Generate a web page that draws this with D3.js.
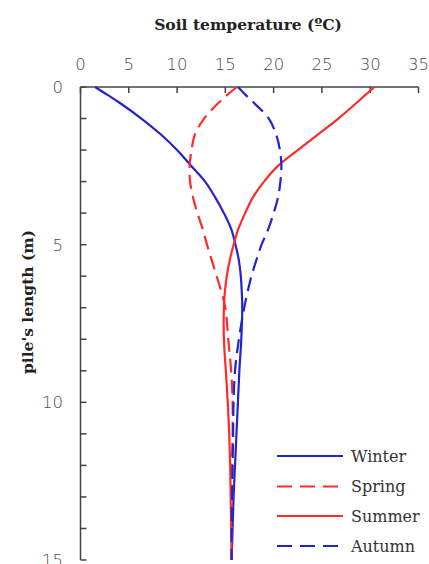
<!DOCTYPE html>
<html>
<head>
<meta charset="utf-8">
<script src="https://cdn.jsdelivr.net/npm/d3@7"></script>
<style>
  html, body { margin: 0; padding: 0; background: #fff; }
  svg { display: block; }
</style>
</head>
<body>
<svg id="chart" width="429" height="564"></svg>
<script>
// Depth below ground (m) at which each soil temperature profile is sampled
const depths = [0, 0.25, 0.5, 1, 1.5, 2, 2.5, 3, 3.5, 4, 4.5, 5, 5.5, 6, 6.5, 7, 8, 9, 10, 11, 12, 13, 14, 15];

// Soil temperature (°C) per season, one value per depth above
const winter = [1.5, 2.8, 4.05, 6.3, 8.3, 10.0, 11.45, 12.9, 13.95, 14.85, 15.6, 16.05, 16.4, 16.6, 16.7, 16.75, 16.65, 16.45, 16.3, 16.15, 16.0, 15.85, 15.75, 15.65];
const spring = [16.2, 15.2, 14.3, 12.8, 11.85, 11.5, 11.3, 11.35, 11.65, 12.1, 12.65, 13.1, 13.6, 14.1, 14.6, 15.0, 15.3, 15.6, 15.75, 15.75, 15.7, 15.7, 15.65, 15.65];
const summer = [30.45, 29.5, 28.6, 26.7, 24.6, 22.5, 20.45, 19.0, 17.85, 17.05, 16.35, 15.85, 15.45, 15.15, 14.95, 14.85, 14.85, 15.05, 15.25, 15.4, 15.5, 15.55, 15.6, 15.65];
const autumn = [16.3, 17.1, 17.95, 19.5, 20.25, 20.65, 20.8, 20.7, 20.45, 20.0, 19.45, 18.75, 18.2, 17.7, 17.3, 16.95, 16.4, 16.0, 15.85, 15.8, 15.75, 15.7, 15.65, 15.65];

const seasonNames = ["Winter", "Spring", "Summer", "Autumn"];
const tempTicks = [0, 5, 10, 15, 20, 25, 30, 35];
const depthLabels = [0, 5, 10, 15];
const depthMinorTicks = d3.range(0, 16, 1);

const blue = "#2424cc";
const red = "#ff2b2b";
const seasons = [
  { name: seasonNames[0], values: winter, color: blue, dash: null },
  { name: seasonNames[1], values: spring, color: red, dash: "14,7" },
  { name: seasonNames[2], values: summer, color: red, dash: null },
  { name: seasonNames[3], values: autumn, color: blue, dash: "14,7" }
];

const svg = d3.select("#chart");

const x = d3.scaleLinear().domain([0, 35]).range([80.5, 418.5]);
const y = d3.scaleLinear().domain([0, 15]).range([87, 560]);

const axisColor = "#444";
const tickFont = "'DejaVu Sans', sans-serif";

// Top temperature axis: baseline with inward ticks
svg.append("line")
  .attr("x1", x(0)).attr("x2", x(35))
  .attr("y1", y(0)).attr("y2", y(0))
  .attr("stroke", axisColor).attr("stroke-width", 1.5);
svg.append("g").selectAll("line").data(tempTicks).join("line")
  .attr("x1", d => x(d)).attr("x2", d => x(d))
  .attr("y1", y(0)).attr("y2", y(0) + 6)
  .attr("stroke", axisColor).attr("stroke-width", 1.5);
svg.append("g").selectAll("text").data(tempTicks).join("text")
  .attr("x", d => x(d)).attr("y", 70)
  .attr("text-anchor", "middle")
  .attr("font-family", tickFont).attr("font-weight", 300)
  .attr("font-size", 16.5).attr("fill", "#4a4a4a")
  .text(d => d);

// Left depth axis: baseline with a tick every metre
svg.append("line")
  .attr("x1", x(0)).attr("x2", x(0))
  .attr("y1", y(0)).attr("y2", y(15))
  .attr("stroke", axisColor).attr("stroke-width", 1.5);
svg.append("g").selectAll("line").data(depthMinorTicks).join("line")
  .attr("x1", x(0)).attr("x2", x(0) + 6)
  .attr("y1", d => y(d)).attr("y2", d => y(d))
  .attr("stroke", axisColor).attr("stroke-width", 1.5);
svg.append("g").selectAll("text").data(depthLabels).join("text")
  .attr("x", 63).attr("y", d => y(d))
  .attr("dy", "0.36em")
  .attr("text-anchor", "end")
  .attr("font-family", tickFont).attr("font-weight", 300)
  .attr("font-size", 16.5).attr("fill", "#4a4a4a")
  .text(d => d);

// Axis titles
svg.append("text")
  .attr("x", 248).attr("y", 30)
  .attr("text-anchor", "middle")
  .attr("font-family", "'DejaVu Serif', serif").attr("font-weight", "bold")
  .attr("font-size", 15.5).attr("fill", "#222")
  .text("Soil temperature (ºC)");
svg.append("text")
  .attr("transform", "translate(33,302) rotate(-90)")
  .attr("text-anchor", "middle")
  .attr("font-family", "'DejaVu Serif', serif").attr("font-weight", "bold")
  .attr("font-size", 15.5).attr("fill", "#222")
  .text("pile's length (m)");

// Temperature profiles against depth
const line = d3.line()
  .x(d => x(d.t))
  .y(d => y(d.z))
  .curve(d3.curveCatmullRom.alpha(0.5));

const plot = svg.append("g");
seasons.forEach(s => {
  const pts = depths.map((z, i) => ({ z, t: s.values[i] }));
  plot.append("path")
    .datum(pts)
    .attr("d", line)
    .attr("fill", "none")
    .attr("stroke", s.color)
    .attr("stroke-width", 2.2)
    .attr("stroke-dasharray", s.dash);
});

// Legend
const legend = svg.append("g");
const legendY = [456, 486.5, 516, 546];
seasons.forEach((s, i) => {
  legend.append("line")
    .attr("x1", 277).attr("x2", 343)
    .attr("y1", legendY[i]).attr("y2", legendY[i])
    .attr("stroke", s.color).attr("stroke-width", 2.2)
    .attr("stroke-dasharray", s.dash ? "15,8" : null);
  legend.append("text")
    .attr("x", 351).attr("y", legendY[i])
    .attr("dy", "0.35em")
    .attr("font-family", "'DejaVu Serif', serif")
    .attr("font-size", 16).attr("fill", "#333")
    .text(s.name);
});
</script>
</body>
</html>
